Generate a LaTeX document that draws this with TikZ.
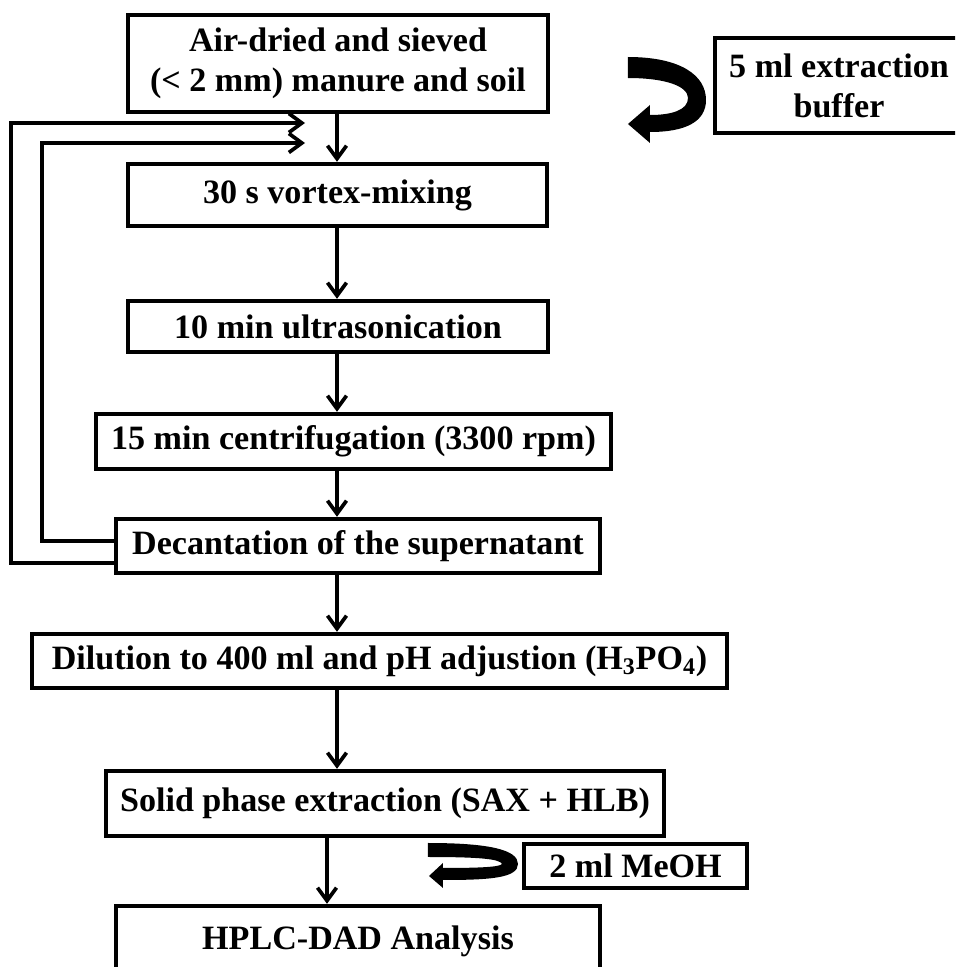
\documentclass[tikz,border=0pt]{standalone}
\usepackage{fontspec}
\setmainfont{Liberation Serif}
\usepackage{tikz}
\usetikzlibrary{arrows.meta,positioning}

\tikzset{
    stage/.style={draw, rectangle, line width=2.5pt, inner sep=0pt, align=center,
        font=\bfseries\fontsize{19.4}{22.7}\selectfont},
    flow/.style={line width=2.1pt, -{Straight Barb[length=2.6mm,width=3.8mm]}},
}

\begin{document}
\begin{tikzpicture}
    \clip (0,0) rectangle (19.1,-19.34);
    \node[stage, minimum width=8.4cm, minimum height=1.94cm] (air) at (6.76,-1.27) {Air-dried and sieved\\(< 2 mm) manure and soil};
    \node[stage, minimum width=4.96cm, minimum height=1.9cm] (buffer) at (16.78,-1.71) {5 ml extraction\\buffer};
    \node[stage, minimum width=8.38cm, minimum height=1.24cm] (vortex) at (6.75,-3.90) {30 s vortex-mixing};
    \node[stage, minimum width=8.4cm, minimum height=1.02cm] (sonic) at (6.76,-6.53) {10 min ultrasonication};
    \node[stage, minimum width=10.3cm, minimum height=1.1cm] (centri) at (7.07,-8.83) {15 min centrifugation (3300 rpm)};
    \node[stage, minimum width=9.68cm, minimum height=1.08cm] (decant) at (7.16,-10.92) {Decantation of the supernatant};
    \node[stage, minimum width=13.9cm, minimum height=1.08cm] (dilute) at (7.59,-13.22) {Dilution to 400 ml and pH adjustion (H\textsubscript{3}PO\textsubscript{4})};
    \node[stage, minimum width=11.16cm, minimum height=1.3cm] (spe) at (7.70,-16.07) {Solid phase extraction (SAX + HLB)};
    \node[stage, minimum width=4.46cm, minimum height=0.88cm] (meoh) at (12.71,-17.32) {2 ml MeOH};
    \node[stage, minimum width=9.68cm, minimum height=1.4cm] (hplc) at (7.16,-18.82) {HPLC-DAD Analysis};

    % main line
    \coordinate (stem) at (6.74,0);
    \coordinate (stemlow) at (6.54,0);
    \draw[flow] (air.south -| stem) -- (vortex.north -| stem);
    \draw[flow] (vortex.south -| stem) -- (sonic.north -| stem);
    \draw[flow] (sonic.south -| stem) -- (centri.north -| stem);
    \draw[flow] (centri.south -| stem) -- (decant.north -| stem);
    \draw[flow] (decant.south -| stem) -- (dilute.north -| stem);
    \draw[flow] (dilute.south -| stem) -- (spe.north -| stem);
    \draw[flow] (spe.south -| stemlow) -- (hplc.north -| stemlow);

    % repeat the extraction
    \coordinate (backA) at (6.1,-2.46);
    \coordinate (backB) at (6.1,-2.86);
    \draw[flow] ([yshift=-0.34cm]decant.west) -- ++(-2.06,0) |- (backA);
    \draw[flow] ([yshift=0.1cm]decant.west) -- ++(-1.44,0) |- (backB);

    % bent arrows for the added solvents
    \begin{scope}[x=0.2mm, y=-0.2mm]
        \fill (628,57) .. controls (680,57) and (706,75) .. (706,100)
            .. controls (706,122) and (685,132) .. (650,132) -- (650,143) -- (628,124) -- (650,105) -- (650,115)
            .. controls (672,115) and (688,110) .. (688,98)
            .. controls (688,86) and (665,78) .. (628,78) -- cycle;
        \fill (428,843) .. controls (490,843) and (518,850) .. (518,864)
            .. controls (518,878) and (490,880) .. (443,880) -- (443,888) -- (429,876) -- (443,863) -- (443,868)
            .. controls (480,868) and (500,867) .. (502,864)
            .. controls (500,859) and (480,857) .. (428,857) -- cycle;
    \end{scope}
\end{tikzpicture}
\end{document}
